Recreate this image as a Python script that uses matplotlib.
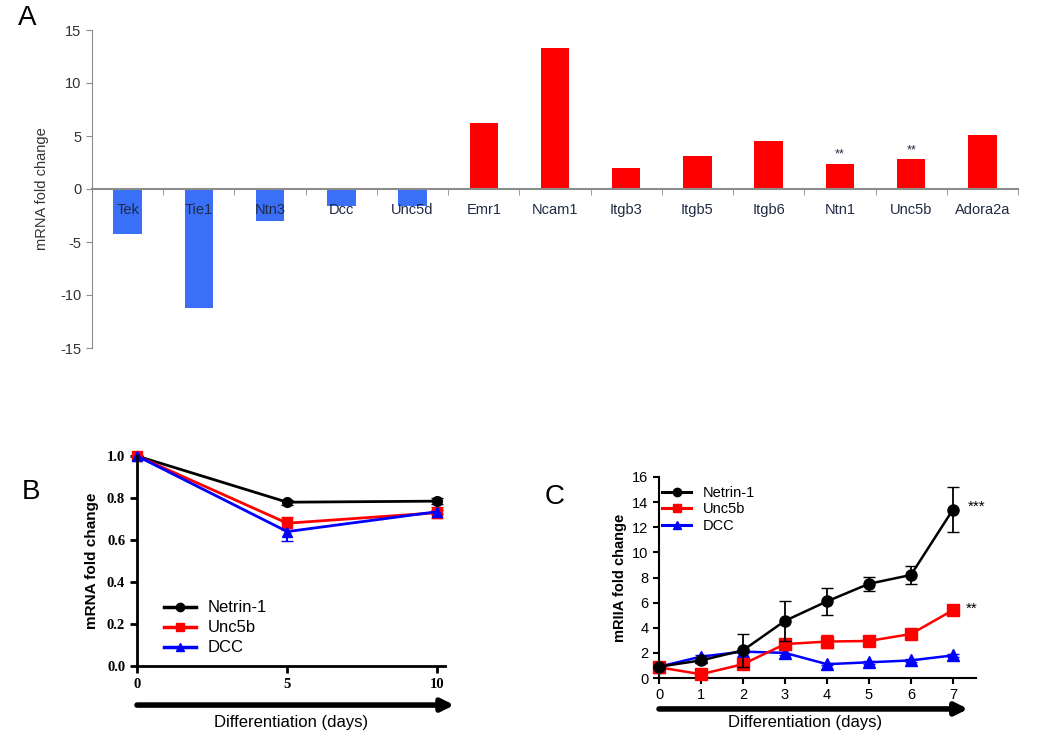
import matplotlib.pyplot as plt
from matplotlib.lines import Line2D
import numpy as np

plt.rcParams['font.family'] = 'Liberation Sans'
plt.rcParams['axes.unicode_minus'] = False

W, H = 1050, 738

# Panel A data
genes = ['Tek', 'Tie1', 'Ntn3', 'Dcc', 'Unc5d', 'Emr1', 'Ncam1', 'Itgb3',
         'Itgb5', 'Itgb6', 'Ntn1', 'Unc5b', 'Adora2a']
fold = [-4.2, -11.2, -3.0, -1.6, -1.6, 6.2, 13.3, 2.0, 3.1, 4.5, 2.4, 2.8, 5.1]
starred = ['Ntn1', 'Unc5b']

# Panel B data
days_b = [0, 5, 10]
netrin_b = [1.0, 0.78, 0.785]
netrin_b_err = [0.0, 0.012, 0.015]
unc5b_b = [1.0, 0.68, 0.73]
unc5b_b_err = [0.0, 0.03, 0.025]
dcc_b = [1.0, 0.64, 0.735]
dcc_b_err = [0.0, 0.045, 0.01]

# Panel C data
days_c = [0, 1, 2, 3, 4, 5, 6, 7]
netrin_c = [0.9, 1.4, 2.2, 4.55, 6.1, 7.5, 8.2, 13.4]
netrin_c_err = [0.1, 0.2, 1.3, 1.6, 1.1, 0.55, 0.75, 1.8]
unc5b_c = [0.85, 0.3, 1.1, 2.7, 2.9, 2.95, 3.5, 5.4]
unc5b_c_err = [0.1, 0.1, 0.4, 0.3, 0.5, 0.2, 0.2, 0.2]
dcc_c = [0.9, 1.7, 2.1, 2.0, 1.1, 1.25, 1.4, 1.8]
dcc_c_err = [0.05, 0.1, 0.1, 0.2, 0.1, 0.1, 0.1, 0.1]

series_names = ['Netrin-1', 'Unc5b', 'DCC']
series_colors = ['black', '#ff0000', '#0000ff']
series_markers = ['o', 's', '^']


def px_axes(fig, x0, y0, x1, y1):
    # pixel box (top-left origin) -> figure fraction axes
    return fig.add_axes([x0 / W, 1 - y1 / H, (x1 - x0) / W, (y1 - y0) / H])


def legend_handles(lw, ms):
    return [Line2D([], [], color=c, marker=m, lw=lw, markersize=ms)
            for c, m in zip(series_colors, series_markers)]


fig = plt.figure(figsize=(W / 100, H / 100), dpi=100)

# ---------------- Panel A ----------------
axA = px_axes(fig, 92, 30, 1018, 348)
x = np.arange(len(genes))
colors = ['#3a6ff7' if v < 0 else '#ff0000' for v in fold]
axA.bar(x, fold, width=0.4, color=colors, zorder=1)
axA.set_xlim(-0.5, len(genes) - 0.5)
axA.set_ylim(-15, 15)
axA.set_yticks(np.arange(-15, 16, 5))
for s in ['top', 'right']:
    axA.spines[s].set_visible(False)
axA.spines['left'].set_color('#8c8c8c')
axA.spines['bottom'].set_color('#8c8c8c')
axA.spines['bottom'].set_position(('data', 0))
axA.spines['bottom'].set_linewidth(1.5)
axA.set_xticks(x)
axA.set_xticklabels(genes)
axA.set_xticks(np.arange(0.5, len(genes), 1), minor=True)
axA.tick_params(axis='x', which='major', length=0, pad=10, labelsize=10.5,
                labelcolor='#1f2a44')
axA.tick_params(axis='x', which='minor', length=4, color='#8c8c8c', direction='out')
axA.tick_params(axis='y', length=4, color='#8c8c8c', labelsize=10.5,
                labelcolor='#333333')
for lab in axA.get_xticklabels():
    lab.set_zorder(5)
axA.set_ylabel('mRNA fold change', fontsize=10.5, color='#333333', labelpad=8)
for g, v in zip(genes, fold):
    if g in starred:
        axA.text(genes.index(g), v + 0.3, '**', ha='center', va='bottom',
                 fontsize=9, color='#1f2a44')
fig.text(18 / W, 1 - 18 / H, 'A', fontsize=20, va='center', ha='left')

# ---------------- Panel B ----------------
axB = px_axes(fig, 137, 456, 445, 666)
kw = dict(lw=2, markersize=7, capsize=4, elinewidth=1.5, clip_on=False)
for ys, es, c, m in zip([netrin_b, unc5b_b, dcc_b],
                        [netrin_b_err, unc5b_b_err, dcc_b_err],
                        series_colors, series_markers):
    axB.errorbar(days_b, ys, yerr=es, color=c, marker=m, **kw)
axB.set_xlim(0, 10.25)
axB.set_ylim(0, 1.0)
axB.set_xticks([0, 5, 10])
axB.set_yticks(np.arange(0, 1.01, 0.2))
axB.set_yticklabels(['%.1f' % v for v in np.arange(0, 1.01, 0.2)])
for s in ['top', 'right']:
    axB.spines[s].set_visible(False)
for s in ['left', 'bottom']:
    axB.spines[s].set_linewidth(2)
axB.tick_params(width=2, length=5)
for lab in axB.get_xticklabels() + axB.get_yticklabels():
    lab.set_family('Liberation Serif')
    lab.set_fontweight('bold')
    lab.set_fontsize(10.5)
axB.set_ylabel('mRNA fold change', fontsize=11, fontweight='bold', labelpad=6)
axB.annotate('', xy=(1.03, -0.186), xytext=(0, -0.186), xycoords='axes fraction',
             arrowprops=dict(arrowstyle='-|>', lw=4, color='black', mutation_scale=18,
                             shrinkA=0, shrinkB=0))
axB.text(0.5, -0.27, 'Differentiation (days)', transform=axB.transAxes,
         ha='center', va='center', fontsize=12)
axB.legend(legend_handles(2.5, 6), series_names, loc='upper left',
           bbox_to_anchor=(156 / W, 1 - 592 / H),
           bbox_transform=fig.transFigure, frameon=False, fontsize=12,
           handlelength=1.9, handletextpad=0.7, labelspacing=0.3,
           borderpad=0)
fig.text(22 / W, 1 - 492 / H, 'B', fontsize=20, va='center', ha='left')

# ---------------- Panel C ----------------
axC = px_axes(fig, 659, 477, 976, 678)
kw = dict(lw=1.8, markersize=8, capsize=4, elinewidth=1.3, clip_on=False)
for ys, es, c, m, z in zip([netrin_c, unc5b_c, dcc_c],
                           [netrin_c_err, unc5b_c_err, dcc_c_err],
                           series_colors, series_markers, [4, 3, 2]):
    axC.errorbar(days_c, ys, yerr=es, color=c, marker=m, zorder=z, **kw)
axC.set_xlim(0, 7.55)
axC.set_ylim(0, 16)
axC.set_xticks(days_c)
axC.set_yticks(np.arange(0, 17, 2))
for s in ['top', 'right']:
    axC.spines[s].set_visible(False)
for s in ['left', 'bottom']:
    axC.spines[s].set_linewidth(1.5)
axC.tick_params(width=1.5, length=4, labelsize=10.5)
axC.set_ylabel('mRIIA fold change', fontsize=10.5, fontweight='bold', labelpad=4)
axC.text(7.35, netrin_c[-1] + 0.2, '***', fontsize=11, va='center', ha='left')
axC.text(7.3, unc5b_c[-1] + 0.1, '**', fontsize=11, va='center', ha='left')
axC.annotate('', xy=(0.975, -0.154), xytext=(0, -0.154), xycoords='axes fraction',
             arrowprops=dict(arrowstyle='-|>', lw=4, color='black', mutation_scale=18,
                             shrinkA=0, shrinkB=0))
axC.text(0.46, -0.22, 'Differentiation (days)', transform=axC.transAxes,
         ha='center', va='center', fontsize=12)
axC.legend(legend_handles(2.2, 6), series_names, loc='upper left',
           bbox_to_anchor=(655 / W, 1 - 479 / H),
           bbox_transform=fig.transFigure, frameon=False, fontsize=10.5,
           handlelength=2.0, handletextpad=0.8, labelspacing=0.15,
           borderpad=0)
fig.text(545 / W, 1 - 497 / H, 'C', fontsize=20, va='center', ha='left')

fig.savefig('out.png', dpi=100)
